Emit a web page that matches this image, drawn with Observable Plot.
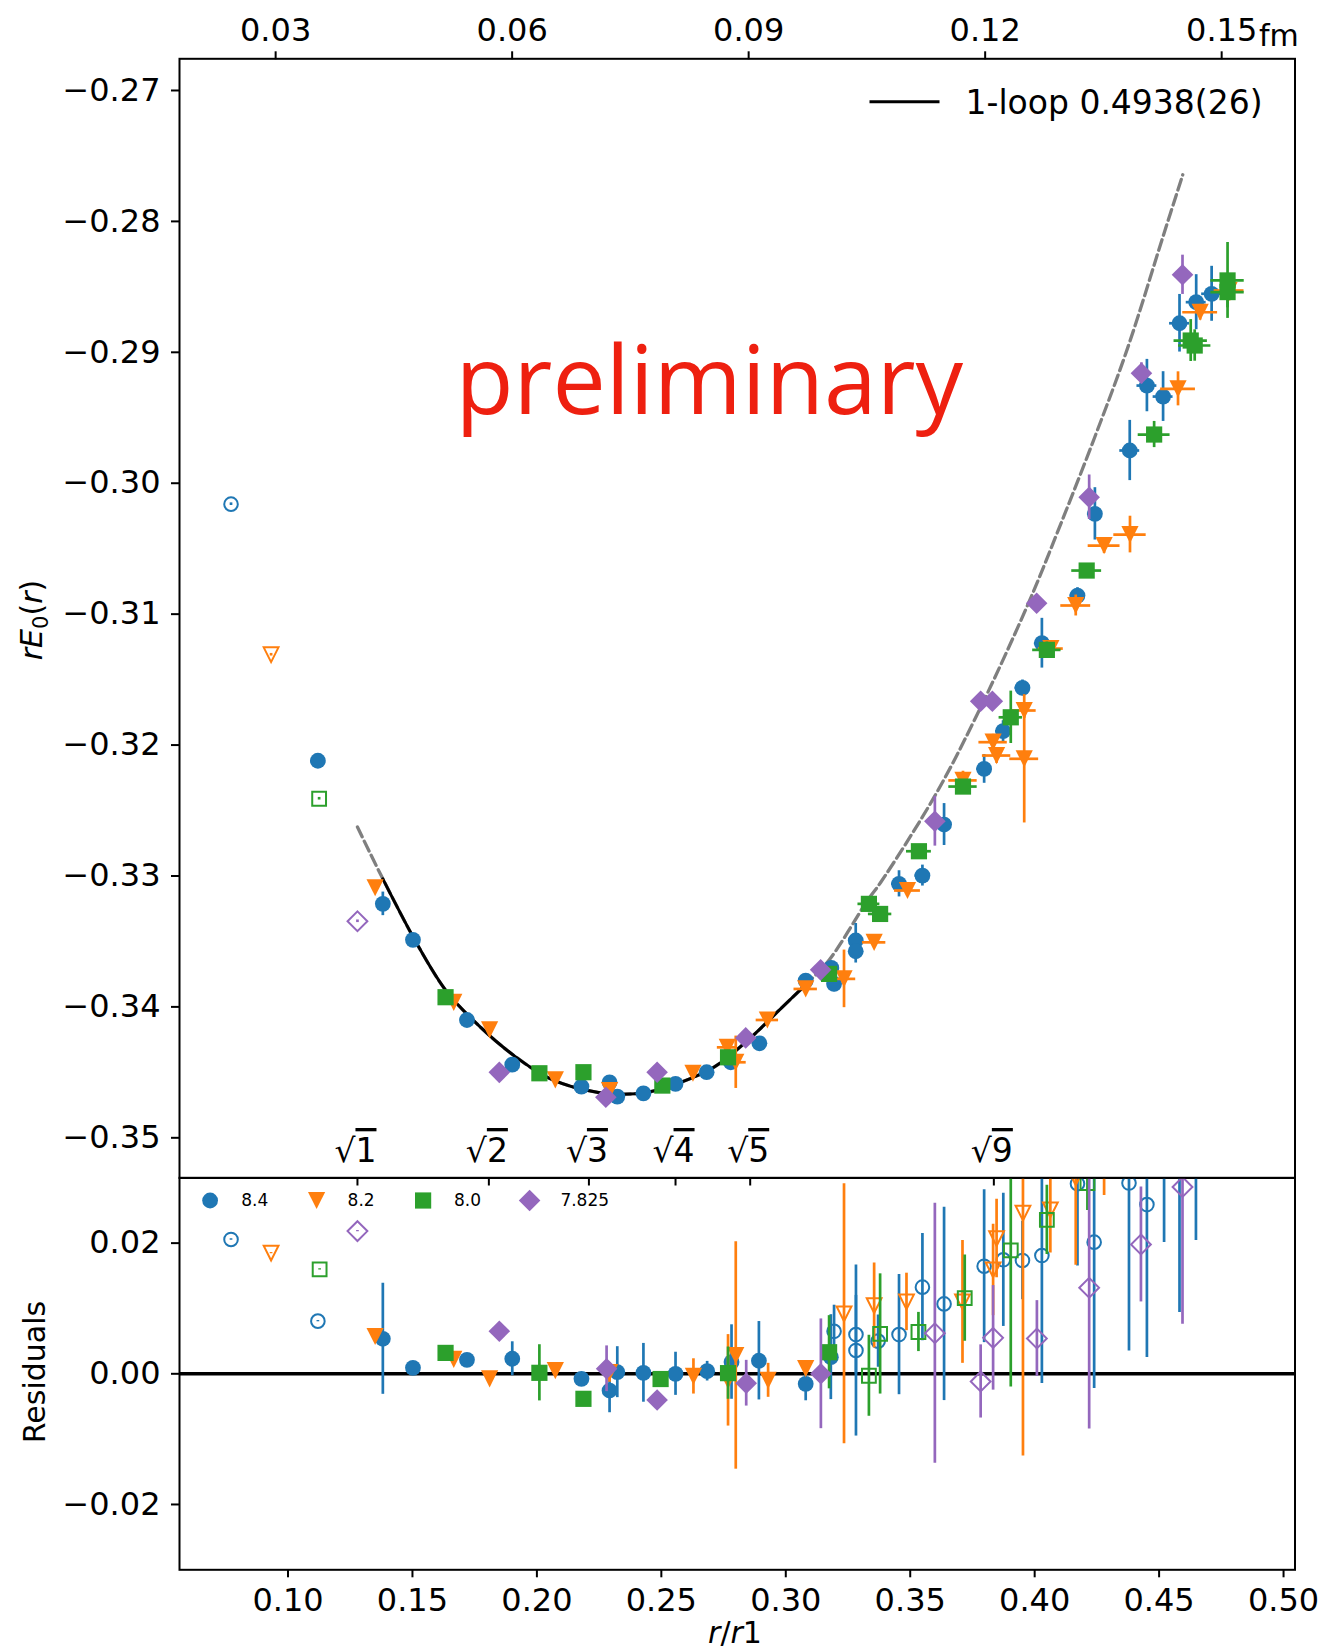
<!DOCTYPE html>
<html>
<head>
<meta charset="utf-8">
<title>Static energy r E0(r) with residuals</title>
<script src="https://cdn.jsdelivr.net/npm/d3@7"></script>
<script src="https://cdn.jsdelivr.net/npm/@observablehq/plot@0.6"></script>
<style>
  html, body { margin: 0; padding: 0; background: #fff; }
  #chart { position: relative; width: 1321px; height: 1651px; }
  #chart > svg { position: absolute; left: 0; top: 0; overflow: visible; }
</style>
</head>
<body>
<div id="chart"></div>
<script>
// ---------------------------------------------------------------- data
const betas = ["8.4", "8.2", "8.0", "7.825"];
const betaColors = ["#1f77b4", "#ff7f0e", "#2ca02c", "#9467bd"];
const betaShapes = ["circle", "triangleDown", "square", "diamond"];

// axis ticks
const r1fm = 0.3157;                       // r1 in fm, for the top (fm) axis
const fmTicks = [0.03, 0.06, 0.09, 0.12, 0.15];
const sqrtTickPos = [0.1279, 0.1807, 0.2209, 0.2557, 0.2857, 0.3836];
const sqrtTickLabels = ["1", "2", "3", "4", "5", "9"];
const yTicksTop = [-0.27, -0.28, -0.29, -0.30, -0.31, -0.32, -0.33, -0.34, -0.35];
const yTicksRes = [0.02, 0.00, -0.02];
const xTicksRes = [0.10, 0.15, 0.20, 0.25, 0.30, 0.35, 0.40, 0.45, 0.50];

// one-loop curve: r/r1 and r E0(r); solid inside the fit window
const fitX = [0.1279, 0.1381, 0.1526, 0.1640, 0.1774, 0.1908, 0.2042, 0.2176, 0.2309, 0.2444,
              0.2578, 0.2711, 0.2846, 0.2979, 0.3080, 0.3175, 0.3328, 0.3381, 0.3596, 0.3757,
              0.3971, 0.4105, 0.4239, 0.4373, 0.4520, 0.4595];
const fitY = [-0.32626, -0.33022, -0.33545, -0.33889, -0.34156, -0.34372, -0.34538, -0.34627, -0.34665, -0.34652,
              -0.34576, -0.34461, -0.34257, -0.34015, -0.33830, -0.33640, -0.33188, -0.33050, -0.32398, -0.31813,
              -0.30934, -0.30310, -0.29660, -0.28970, -0.28090, -0.27644];
const fitWindow = [0.1381, 0.3080];
const fitLabel = "1-loop 0.4938(26)";

// r E0(r): [r/r1, value, error, r/r1 error]
const e0_84 = [
  [0.1120, -0.32120, 0.0001, 0], [0.1381, -0.33213, 0.0009, 0], [0.1502, -0.33488, 0.0002, 0],
  [0.1719, -0.34100, 0.0002, 0], [0.1901, -0.34441, 0.0004, 0], [0.2179, -0.34609, 0.0002, 0],
  [0.2292, -0.34576, 0.0003, 0], [0.2323, -0.34685, 0.0003, 0], [0.2428, -0.34660, 0.0003, 0],
  [0.2557, -0.34588, 0.0003, 0], [0.2682, -0.34499, 0.0002, 0], [0.2779, -0.34423, 0.0005, 0],
  [0.2894, -0.34278, 0.0005, 0], [0.3080, -0.33799, 0.0003, 0], [0.3183, -0.33702, 0.0005, 0],
  [0.3194, -0.33824, 0.0006, 0], [0.3281, -0.33493, 0.0013, 0.002], [0.3281, -0.33575, 0.0009, 0.002],
  [0.3455, -0.33060, 0.0010, 0.003], [0.3549, -0.32997, 0.0008, 0.003], [0.3636, -0.32607, 0.0016, 0.003],
  [0.3797, -0.32182, 0.0011, 0.003], [0.3873, -0.31894, 0.0008, 0.003], [0.3951, -0.31563, 0.0006, 0.003],
  [0.4029, -0.31222, 0.0019, 0.003], [0.4172, -0.30858, 0.0006, 0.003], [0.4242, -0.30234, 0.0020, 0.003],
  [0.4382, -0.29750, 0.0023, 0.004], [0.4451, -0.29254, 0.0020, 0.004], [0.4516, -0.29338, 0.0019, 0.004],
  [0.4582, -0.28778, 0.0022, 0.004], [0.4649, -0.28617, 0.0021, 0.004], [0.4711, -0.28553, 0.0021, 0.004]
];
const e0_82 = [
  [0.1350, -0.33090, 0.0003, 0], [0.1666, -0.33965, 0.0002, 0], [0.1810, -0.34176, 0.0002, 0],
  [0.2074, -0.34558, 0.0002, 0], [0.2292, -0.34640, 0.0003, 0], [0.2627, -0.34507, 0.0003, 0],
  [0.2765, -0.34309, 0.0004, 0.0040], [0.2799, -0.34423, 0.0020, 0.0042], [0.2926, -0.34100, 0.0003, 0.0045],
  [0.3080, -0.33863, 0.0003, 0.0047], [0.3234, -0.33786, 0.0022, 0.0047], [0.3355, -0.33507, 0.0004, 0.0047],
  [0.3489, -0.33111, 0.0004, 0.0052], [0.3712, -0.32270, 0.0007, 0.0057], [0.3833, -0.31978, 0.0006, 0.0057],
  [0.3847, -0.32080, 0.0006, 0.0057], [0.3958, -0.31736, 0.0006, 0.0048], [0.3958, -0.32105, 0.0049, 0.0058],
  [0.4065, -0.31263, 0.0005, 0.0050], [0.4165, -0.30934, 0.0008, 0.0060], [0.4279, -0.30476, 0.0006, 0.0064],
  [0.4383, -0.30392, 0.0014, 0.0065], [0.4576, -0.29279, 0.0013, 0.0070], [0.4665, -0.28694, 0.0006, 0.0070],
  [0.4781, -0.28528, 0.0008, 0.0060]
];
const e0_80 = [
  [0.1633, -0.33926, 0.0002, 0], [0.2010, -0.34507, 0.0002, 0], [0.2187, -0.34499, 0.0002, 0],
  [0.2504, -0.34601, 0.0002, 0], [0.2768, -0.34385, 0.0003, 0], [0.3174, -0.33748, 0.0003, 0],
  [0.3334, -0.33213, 0.0003, 0.0044], [0.3379, -0.33290, 0.0005, 0.0047], [0.3535, -0.32811, 0.0003, 0.0050],
  [0.3712, -0.32317, 0.0005, 0.0057], [0.3904, -0.31788, 0.0020, 0.0047], [0.4049, -0.31273, 0.0006, 0.0057],
  [0.4209, -0.30667, 0.0005, 0.0060], [0.4480, -0.29628, 0.0010, 0.0064], [0.4627, -0.28910, 0.0016, 0.0067],
  [0.4643, -0.28948, 0.0012, 0.0065], [0.4775, -0.28451, 0.0029, 0.0067], [0.4775, -0.28540, 0.0012, 0.0067]
];
const e0_7825 = [
  [0.1849, -0.34500, 0.0002, 0], [0.2277, -0.34690, 0.0003, 0], [0.2483, -0.34499, 0.0003, 0],
  [0.2839, -0.34237, 0.0003, 0], [0.3140, -0.33717, 0.0005, 0], [0.3599, -0.32582, 0.0019, 0],
  [0.3783, -0.31665, 0.0005, 0], [0.3830, -0.31665, 0.0005, 0], [0.4008, -0.30917, 0.0005, 0],
  [0.4219, -0.30107, 0.0017, 0], [0.4429, -0.29160, 0.0008, 0], [0.4594, -0.28408, 0.0015, 0]
];
// shortest distances, left out of the fit: [r/r1, value, error]
const e0Out_84 = [[0.0771, -0.30160, 0.0001]];
const e0Out_82 = [[0.0932, -0.31310, 0.0001]];
const e0Out_80 = [[0.1125, -0.32410, 0.0001]];
const e0Out_7825 = [[0.1279, -0.33346, 0.0001]];

// residuals of the fit: [r/r1, residual, error]
const res_84 = [
  [0.1381, 0.00536, 0.0085], [0.1502, 0.00092, 0.0003], [0.1719, 0.00214, 0.0004], [0.1901, 0.00230, 0.0026],
  [0.2179, -0.00077, 0.0004], [0.2292, -0.00256, 0.0034], [0.2323, 0.00025, 0.0039], [0.2428, 0.00015, 0.0045],
  [0.2557, 0.00000, 0.0033], [0.2684, 0.00040, 0.0015], [0.2782, 0.00180, 0.0057], [0.2892, 0.00200, 0.0060],
  [0.3080, -0.00153, 0.0026], [0.3181, 0.00255, 0.0065]
];
const res_82 = [
  [0.1350, 0.00571, 0.0003], [0.1666, 0.00220, 0.0005], [0.1810, -0.00077, 0.0003], [0.2074, 0.00050, 0.0005],
  [0.2292, 0.00020, 0.0015], [0.2629, -0.00040, 0.0027], [0.2768, -0.00100, 0.0070], [0.2799, 0.00280, 0.0174],
  [0.2929, -0.00100, 0.0026], [0.3080, 0.00080, 0.0008]
];
const res_80 = [
  [0.1633, 0.00320, 0.0003], [0.2010, 0.00015, 0.0043], [0.2187, -0.00383, 0.0003], [0.2497, -0.00080, 0.0005],
  [0.2768, 0.00010, 0.0040], [0.3174, 0.00330, 0.0056]
];
const res_7825 = [
  [0.1849, 0.00652, 0.0003], [0.2280, 0.00077, 0.0035], [0.2483, -0.00400, 0.0010], [0.2841, -0.00144, 0.0035],
  [0.3141, 0.00000, 0.0084]
];
const resOut_84 = [
  [0.0771, 0.02056, 0.0001], [0.1120, 0.00806, 0.0001], [0.3194, 0.00650, 0.0040], [0.3282, 0.00600, 0.0060],
  [0.3282, 0.00357, 0.0131], [0.3371, 0.00500, 0.0040], [0.3455, 0.00600, 0.0092], [0.3549, 0.01326, 0.0082],
  [0.3636, 0.01070, 0.0148], [0.3797, 0.01647, 0.0117], [0.3874, 0.01745, 0.0102], [0.3951, 0.01735, 0.0060],
  [0.4029, 0.01810, 0.0196], [0.4172, 0.02910, 0.0126], [0.4239, 0.02015, 0.0224], [0.4379, 0.02920, 0.0257],
  [0.4451, 0.02590, 0.0234], [0.4520, 0.03400, 0.0139], [0.4582, 0.03600, 0.0266], [0.4648, 0.03600, 0.0156]
];
const resOut_82 = [
  [0.0932, 0.01847, 0.0001], [0.3234, 0.00918, 0.0199], [0.3355, 0.01045, 0.0065], [0.3485, 0.01100, 0.0044],
  [0.3710, 0.01100, 0.0094], [0.3833, 0.01590, 0.0070], [0.3847, 0.02070, 0.0060], [0.3953, 0.02460, 0.0372],
  [0.4063, 0.02510, 0.0066], [0.4165, 0.03000, 0.0134], [0.4279, 0.03600, 0.0087]
];
const resOut_80 = [
  [0.1127, 0.01597, 0.0001], [0.3334, -0.00030, 0.0062], [0.3379, 0.00610, 0.0092], [0.3533, 0.00640, 0.0030],
  [0.3719, 0.01158, 0.0066], [0.3904, 0.01888, 0.0209], [0.4049, 0.02357, 0.0053], [0.4212, 0.02920, 0.0042]
];
const resOut_7825 = [
  [0.1279, 0.02184, 0.0001], [0.3599, 0.00620, 0.0199], [0.3783, -0.00117, 0.0056], [0.3833, 0.00550, 0.0080],
  [0.4009, 0.00540, 0.0058], [0.4219, 0.01317, 0.0216], [0.4427, 0.01980, 0.0088], [0.4594, 0.02860, 0.0210]
];

// ---------------------------------------------------------------- helpers
const rows = (a) => a.map(([x, y, ey = 0, ex = 0]) => ({x, y, ey, ex}));
const series = betas.map((beta, i) => ({
  beta, color: betaColors[i], shape: betaShapes[i],
  top: rows([e0_84, e0_82, e0_80, e0_7825][i]),
  topOut: rows([e0Out_84, e0Out_82, e0Out_80, e0Out_7825][i]),
  res: rows([res_84, res_82, res_80, res_7825][i]),
  resOut: rows([resOut_84, resOut_82, resOut_80, resOut_7825][i])
}));
const fit = fitX.map((x, i) => ({x, y: fitY[i]}));

// matplotlib-like marker outlines; size is the area Plot derives from r
function marker(kind) {
  return {
    draw(ctx, size) {
      const h = Math.sqrt(size / Math.PI);
      if (kind === "circle") { ctx.moveTo(h, 0); ctx.arc(0, 0, h, 0, 2 * Math.PI); }
      else if (kind === "triangleDown") { ctx.moveTo(-h, -h); ctx.lineTo(h, -h); ctx.lineTo(0, h); ctx.closePath(); }
      else if (kind === "square") { ctx.rect(-h, -h, 2 * h, 2 * h); }
      else { ctx.moveTo(0, -h); ctx.lineTo(h, 0); ctx.lineTo(0, h); ctx.lineTo(-h, 0); ctx.closePath(); }
    }
  };
}
const filledR = {circle: 7.9, triangleDown: 8.6, square: 8.1, diamond: 10.8};
const hollowR = {circle: 6.8, triangleDown: 7.4, square: 6.9, diamond: 9.9};
const BAR = 2.7;

function pointMarks(s, filled, hollow, clip) {
  return [
    Plot.ruleX(filled, {x: "x", y1: (d) => d.y - d.ey, y2: (d) => d.y + d.ey, stroke: s.color, strokeWidth: BAR, clip}),
    Plot.ruleY(filled.filter((d) => d.ex > 0), {y: "y", x1: (d) => d.x - d.ex, x2: (d) => d.x + d.ex, stroke: s.color, strokeWidth: BAR, clip}),
    Plot.dot(filled, {x: "x", y: "y", symbol: marker(s.shape), r: filledR[s.shape], fill: s.color, stroke: "none", clip}),
    Plot.ruleX(hollow, {x: "x", y1: (d) => d.y - d.ey, y2: (d) => d.y + d.ey, stroke: s.color, strokeWidth: BAR, clip}),
    Plot.dot(hollow, {x: "x", y: "y", symbol: marker(s.shape), r: hollowR[s.shape], fill: "none", stroke: s.color, strokeWidth: 2, clip})
  ];
}

const fmt2 = d3.format(".2f");
const xDomain = [0.0564, 0.5046];
const frameStyle = {background: "none", overflow: "visible", fontFamily: "DejaVu Sans, sans-serif", fontSize: "32px", color: "black"};
const W = 1321, ML = 179, MR = 26.5;

// ---------------------------------------------------------------- upper panel
const topPlot = Plot.plot({
  width: W, height: 1190,
  marginTop: 58.3, marginBottom: 12.5, marginLeft: ML, marginRight: MR,
  style: frameStyle,
  x: {domain: xDomain},
  y: {domain: [-0.35307, -0.26758]},
  marks: [
    Plot.axisY({ticks: yTicksTop, tickFormat: fmt2, tickSize: 8, tickPadding: 11, strokeWidth: 2, label: null}),
    Plot.axisX({anchor: "top", ticks: fmTicks.map((f) => f / r1fm), tickFormat: (d) => fmt2(d * r1fm),
                tickSize: 8, tickPadding: 10, strokeWidth: 2, label: null}),
    Plot.axisX({anchor: "bottom", ticks: sqrtTickPos, tickFormat: () => "", tickSize: 8, strokeWidth: 2, label: null}),
    Plot.text(sqrtTickPos, {x: (d) => d, text: (d, i) => "\u221A" + sqrtTickLabels[i], frameAnchor: "bottom",
                            dy: -16, dx: -2, lineAnchor: "bottom", fontSize: 33, fill: "black"}),
    Plot.line(fit, {x: "x", y: "y", stroke: "#7f7f7f", strokeWidth: 3.3, strokeDasharray: "11,4.8", curve: "catmull-rom"}),
    Plot.line(fit.filter((d) => d.x >= fitWindow[0] && d.x <= fitWindow[1]),
              {x: "x", y: "y", stroke: "black", strokeWidth: 3, curve: "catmull-rom"}),
    ...series.flatMap((s) => pointMarks(s, s.top, s.topOut, false)),
    Plot.text(["preliminary"], {frameAnchor: "top-left", dx: 276, dy: 355, text: (d) => d, textAnchor: "start",
                               lineAnchor: "bottom", fontFamily: "Open Sans", fontSize: 95, fill: "#ee2010"}),
    // legend for the fitted curve
    (index, scales, values, dims) => {
      const g = d3.create("svg:g");
      const xr = dims.width - dims.marginRight, y0 = dims.marginTop + 43.4;
      g.append("line").attr("x1", xr - 425).attr("x2", xr - 355).attr("y1", y0).attr("y2", y0)
        .attr("stroke", "black").attr("stroke-width", 3);
      g.append("text").attr("x", xr - 329).attr("y", y0 + 11.8).attr("font-size", 33)
        .attr("text-anchor", "start").attr("fill", "black").text(fitLabel);
      return g.node();
    },
    Plot.frame({stroke: "black", strokeWidth: 2})
  ]
});

// vinculum over the radicands of the sqrt labels
d3.select(topPlot).selectAll("text").each(function () {
  const t = this.textContent;
  if (t.startsWith("\u221A") && this.childElementCount === 0) {
    const el = d3.select(this).text("");
    el.append("tspan").text("\u221A");
    el.append("tspan").style("text-decoration", "overline").text(t.slice(1));
  }
});

// ---------------------------------------------------------------- residual panel
const resPlot = Plot.plot({
  width: W, height: 1651,
  marginTop: 1177.3, marginBottom: 81.7, marginLeft: ML, marginRight: MR,
  style: frameStyle,
  x: {domain: xDomain},
  y: {domain: [-0.030, 0.030]},
  marks: [
    Plot.axisY({ticks: yTicksRes, tickFormat: fmt2, tickSize: 8, tickPadding: 11, strokeWidth: 2, label: null}),
    Plot.axisX({anchor: "bottom", ticks: xTicksRes, tickFormat: fmt2, tickSize: 8, tickPadding: 10, strokeWidth: 2, label: null}),
    Plot.ruleY([0], {stroke: "black", strokeWidth: 3.5}),
    ...series.flatMap((s) => pointMarks(s, s.res, s.resOut, true)),
    // legend: one entry per beta
    ...series.flatMap((s, i) => [
      Plot.dot([s], {frameAnchor: "top-left", dx: 30.6 + i * 106.5, dy: 22.7, symbol: marker(s.shape),
                     r: filledR[s.shape], fill: s.color, stroke: "none"}),
      Plot.text([s], {frameAnchor: "top-left", dx: 61.7 + i * 106.4, dy: 16.5, text: "beta", textAnchor: "start",
                      fontSize: 17, fill: "black"})
    ]),
    // axis titles
    (index, scales, values, dims) => {
      const g = d3.create("svg:g").attr("fill", "black");
      const yl = g.append("text").attr("transform", "translate(42,620) rotate(-90)")
        .attr("text-anchor", "middle").attr("font-size", 30);
      yl.append("tspan").attr("font-style", "italic").text("rE");
      yl.append("tspan").attr("font-size", 21).attr("dy", 6).text("0");
      yl.append("tspan").attr("dy", -6).text("(");
      yl.append("tspan").attr("font-style", "italic").text("r");
      yl.append("tspan").text(")");
      g.append("text").attr("transform", "translate(45,1372) rotate(-90)")
        .attr("text-anchor", "middle").attr("font-size", 30).text("Residuals");
      const xl = g.append("text").attr("x", 735).attr("y", 1643).attr("text-anchor", "middle").attr("font-size", 30);
      xl.append("tspan").attr("font-style", "italic").text("r");
      xl.append("tspan").text("/");
      xl.append("tspan").attr("font-style", "italic").text("r");
      xl.append("tspan").text("1");
      g.append("text").attr("x", 1259).attr("y", 46).attr("font-size", 30).attr("text-anchor", "start").text("fm");
      return g.node();
    },
    Plot.frame({stroke: "black", strokeWidth: 2})
  ]
});

const chart = document.getElementById("chart");
chart.appendChild(topPlot);
chart.appendChild(resPlot);
</script>
</body>
</html>
